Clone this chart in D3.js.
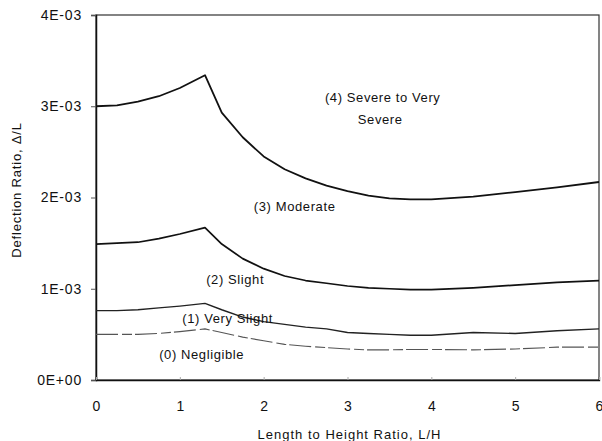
<!DOCTYPE html>
<html>
<head>
<meta charset="utf-8">
<script src="https://cdn.jsdelivr.net/npm/d3@7"></script>
<style>
  html, body { margin: 0; padding: 0; background: #fff; }
  svg { display: block; }
  text { font-family: "Liberation Sans", Arial, sans-serif; fill: #111; }
</style>
</head>
<body>
<svg id="chart" width="602" height="441"></svg>
<script>
// Length-to-height ratio sample points (shared by all boundary curves)
const lhRatio = [0, 0.25, 0.5, 0.75, 1.0, 1.3, 1.5, 1.75, 2.0, 2.25, 2.5, 2.75, 3.0, 3.25, 3.5, 3.75, 4.0, 4.5, 5.0, 5.5, 6.0];

// Damage-category boundaries, deflection ratio in units of 1E-03
const severeBound   = [3.00, 3.01, 3.05, 3.11, 3.20, 3.34, 2.93, 2.66, 2.45, 2.31, 2.21, 2.13, 2.07, 2.02, 1.99, 1.98, 1.98, 2.01, 2.06, 2.11, 2.17];
const moderateBound = [1.49, 1.50, 1.51, 1.55, 1.60, 1.67, 1.49, 1.33, 1.22, 1.14, 1.09, 1.06, 1.03, 1.01, 1.00, 0.99, 0.99, 1.01, 1.04, 1.07, 1.09];
const slightBound   = [0.76, 0.76, 0.77, 0.79, 0.81, 0.84, 0.77, 0.69, 0.64, 0.61, 0.58, 0.56, 0.52, 0.51, 0.50, 0.49, 0.49, 0.52, 0.51, 0.54, 0.56];
const verySlightBound = [0.50, 0.50, 0.50, 0.51, 0.53, 0.56, 0.52, 0.47, 0.43, 0.39, 0.37, 0.355, 0.34, 0.33, 0.33, 0.335, 0.335, 0.33, 0.34, 0.36, 0.36];

// Axis ticks
const xTicks = [0, 1, 2, 3, 4, 5, 6];
const yTicks = [0, 0.001, 0.002, 0.003, 0.004];
const yTickLabels = ["0E+00", "1E-03", "2E-03", "3E-03", "4E-03"];

// Zone names
const zoneNames = ["(0) Negligible", "(1) Very Slight", "(2) Slight", "(3) Moderate", "(4) Severe to Very", "Severe"];

const svg = d3.select("#chart");
const plot = { left: 96, right: 599, top: 15, bottom: 380 };

const x = d3.scaleLinear().domain([0, 6]).range([plot.left, plot.right]);
const y = d3.scaleLinear().domain([0, 0.004]).range([plot.bottom, plot.top]);

// Frame
svg.append("rect")
  .attr("x", plot.left).attr("y", plot.top)
  .attr("width", plot.right - plot.left).attr("height", plot.bottom - plot.top)
  .attr("fill", "none").attr("stroke", "#333").attr("stroke-width", 1.2);

// Y axis
const yAxis = d3.axisLeft(y).tickValues(yTicks).tickSize(5).tickPadding(9)
  .tickFormat((d, i) => yTickLabels[i]);
const gy = svg.append("g").attr("transform", `translate(${plot.left},0)`).call(yAxis);
gy.select(".domain").attr("stroke", "#111").attr("stroke-width", 1.5);
gy.selectAll(".tick line").attr("stroke", "#555");
gy.selectAll(".tick text").attr("font-size", 14).attr("letter-spacing", "0.8px")
  .attr("fill", "#111").attr("font-family", "Liberation Sans, Arial, sans-serif");

// X axis
const xAxis = d3.axisBottom(x).tickValues(xTicks).tickSize(-3).tickPadding(21)
  .tickFormat(d3.format("d"));
const gx = svg.append("g").attr("transform", `translate(0,${plot.bottom})`).call(xAxis);
gx.select(".domain").attr("stroke", "#111").attr("stroke-width", 1.3);
gx.selectAll(".tick line").attr("stroke", "#aaa");
gx.selectAll(".tick text").attr("font-size", 14).attr("fill", "#111")
  .attr("font-family", "Liberation Sans, Arial, sans-serif");

// Axis titles
svg.append("text")
  .attr("x", (plot.left + plot.right) / 2 + 2).attr("y", 439)
  .attr("text-anchor", "middle").attr("font-size", 13).attr("letter-spacing", "1px")
  .text("Length to Height Ratio, L/H");

svg.append("text")
  .attr("transform", "translate(21,190) rotate(-90)")
  .attr("text-anchor", "middle").attr("font-size", 13).attr("letter-spacing", "0.8px")
  .text("Deflection Ratio, \u0394/L");

// Boundary curves
const line = d3.line()
  .x((d, i) => x(lhRatio[i]))
  .y(d => y(d * 1e-3));

const curves = [
  { values: severeBound,     stroke: "#111", width: 1.8, dash: null },
  { values: moderateBound,   stroke: "#111", width: 1.7, dash: null },
  { values: slightBound,     stroke: "#222", width: 1.4, dash: null },
  { values: verySlightBound, stroke: "#555", width: 1.1, dash: "22,4,10,3" }
];

svg.append("g").selectAll("path").data(curves).join("path")
  .attr("d", c => line(c.values))
  .attr("fill", "none")
  .attr("stroke", c => c.stroke)
  .attr("stroke-width", c => c.width)
  .attr("stroke-dasharray", c => c.dash)
  .attr("stroke-linejoin", "round");

// Zone labels, anchored in data units
const labelAnchors = [
  [1.26, 0.000285], [1.57, 0.00067], [1.66, 0.00110], [2.37, 0.00190], [3.42, 0.00310], [3.39, 0.00286]
];
svg.append("g").selectAll("text").data(zoneNames).join("text")
  .attr("x", (d, i) => x(labelAnchors[i][0]))
  .attr("y", (d, i) => y(labelAnchors[i][1]))
  .attr("dy", "0.35em")
  .attr("text-anchor", "middle")
  .attr("font-size", 13)
  .attr("letter-spacing", "0.6px")
  .text(d => d);
</script>
</body>
</html>
